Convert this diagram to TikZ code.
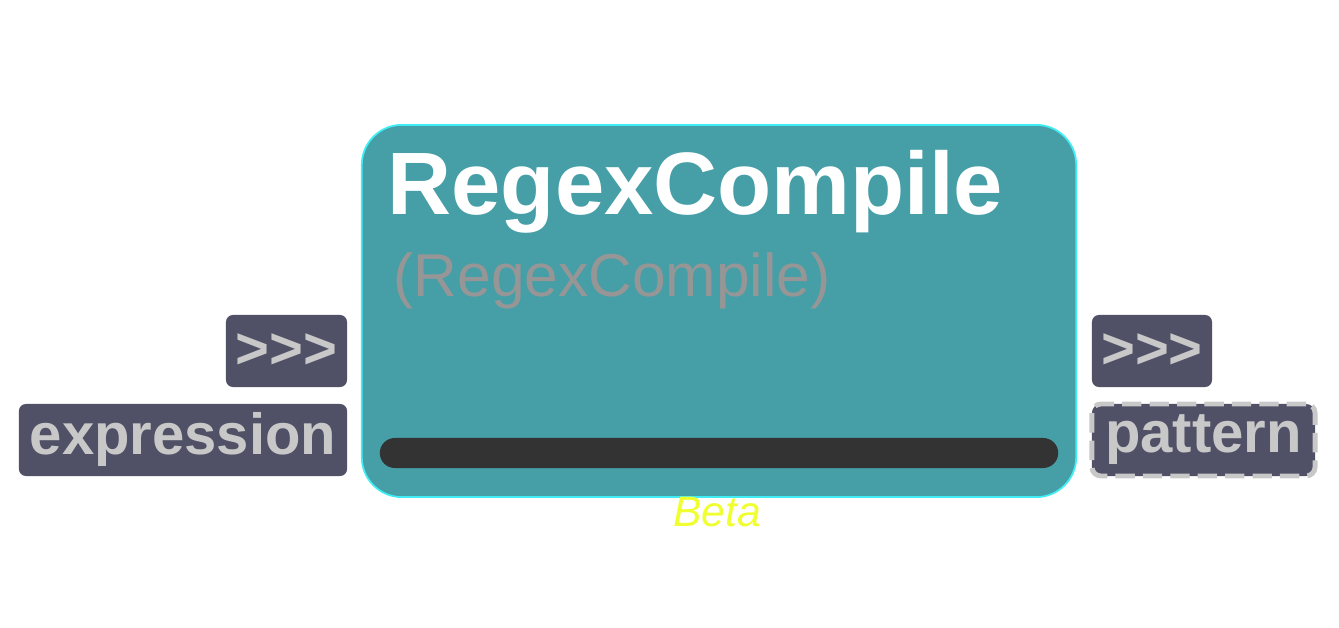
\documentclass[tikz,border=0pt]{standalone}
\usepackage{fontspec}
\setmainfont{Liberation Sans}
\usepackage{xcolor}
\usepackage{tikz}
\usetikzlibrary{positioning,calc}

\definecolor{nodefill}{HTML}{469EA7}
\definecolor{nodeline}{HTML}{3FEEF4}
\definecolor{portfill}{HTML}{505066}
\definecolor{porttext}{HTML}{C8C8C8}
\definecolor{subgray}{HTML}{969696}
\definecolor{barfill}{HTML}{333333}
\definecolor{betayellow}{HTML}{F0FF30}

\begin{document}
\begin{tikzpicture}[x=0.01cm, y=-0.01cm, main/.style = {draw=nodeline, line width=0.5pt, fill=nodefill, rounded corners=0.4cm, minimum width=7.14cm, minimum height=3.72cm, inner sep=0pt}, port/.style = {fill=portfill, rounded corners=0.07cm, minimum height=0.72cm, inner sep=0pt, text=porttext, font=\fontsize{16.5pt}{18pt}\selectfont\bfseries}, dashport/.style = {port, draw=porttext, line width=1.4pt, rounded corners=0.09cm, dash pattern=on 5.5pt off 2.3pt}]

\useasboundingbox (0,0) rectangle (1339,628);

\node[main] (node) at (719,311) {};
\node[anchor=base west, text=white, inner sep=0pt, font=\fontsize{25.2pt}{28pt}\selectfont\bfseries] (title) at (387,215) {RegexCompile};
\node[anchor=base west, text=subgray, inner sep=0pt, font=\fontsize{17.2pt}{20pt}\selectfont] (sub) at (393,297) {(RegexCompile)};
\node[fill=barfill, rounded corners=0.15cm, minimum width=6.78cm, minimum height=0.3cm, inner sep=0pt] (bar) at (719,453) {};
\node[anchor=base, text=betayellow, inner sep=0pt, font=\fontsize{12.1pt}{14pt}\selectfont\itshape] (beta) at (717,527) {Beta};

% inputs
\node[port, minimum width=1.21cm] (inflow) at (286.5,351) {{>}{>}{>}};
\node[port, minimum width=3.28cm] (expr) at (183,440) {expression};

% outputs
\node[port, minimum width=1.2cm] (outflow) at (1152,351) {{>}{>}{>}};
\node[dashport, minimum width=2.23cm] (pat) at (1203.5,440) {pattern};
\end{tikzpicture}
\end{document}
